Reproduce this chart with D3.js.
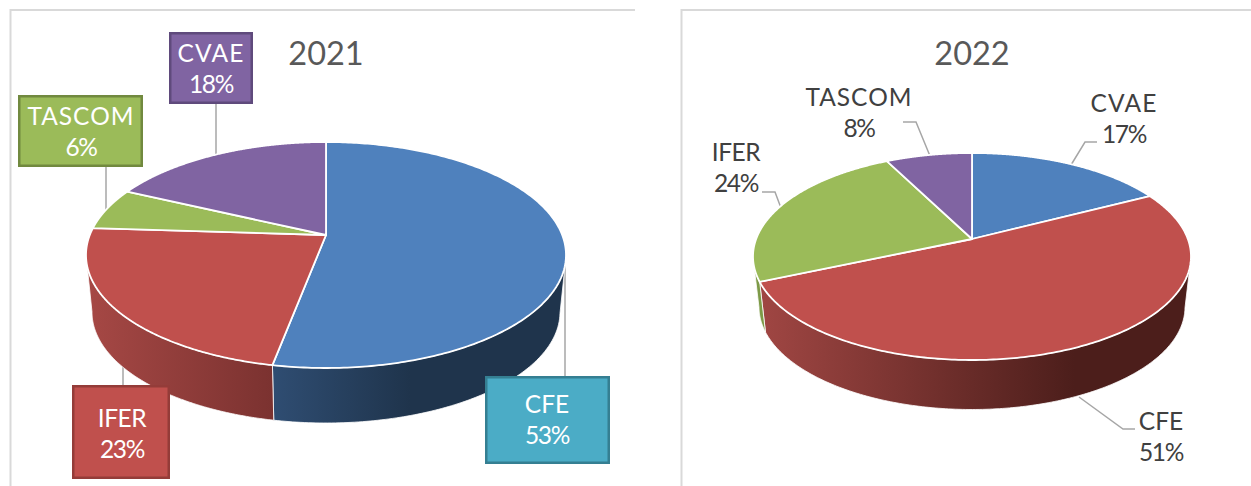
<!DOCTYPE html>
<html><head><meta charset="utf-8">
<style>html,body{margin:0;padding:0;background:#fff}svg{display:block}text{font-family:Lato,"Open Sans",sans-serif}</style>
<script src="https://cdn.jsdelivr.net/npm/d3@7/dist/d3.min.js"></script></head>
<body><svg id="c" width="1251" height="486"></svg>
<script>
const names2021 = ["CFE","IFER","TASCOM","CVAE"];
const values2021 = [53,23,6,18];
const names2022 = ["CVAE","CFE","IFER","TASCOM"];
const values2022 = [17.4,51.1,24,7.5];

const TOP={CFE:"#4f81bd",IFER:"#c0504d",TASCOM:"#9bbb59",CVAE:"#8064a2"};
const svg=d3.select("#c"), defs=svg.append("defs");

function drawPie(cfg){
  const {names,values,geo,fills,walls}=cfg;
  const arcs=d3.pie().sort(null)(values);
  const {cx,cy,rx,ry,apexY,depth,shrink}=geo;
  const up=cy-ry, dn=cy+ry;
  const B=2/(1/(apexY-up)+1/(dn-apexY));
  const A=rx*Math.sqrt(1-((cy-apexY)/ry)**2);
  function rim(t){
    const dx=A*Math.sin(t), dy=-B*Math.cos(t);
    const ey=apexY-cy;
    const a=dx*dx/(rx*rx)+dy*dy/(ry*ry), b=2*dy*ey/(ry*ry), c=ey*ey/(ry*ry)-1;
    const s=(-b+Math.sqrt(b*b-4*a*c))/(2*a);
    const x=dx*s, y=ey+dy*s;
    return {x:cx+x,y:cy+y,ux:x/rx,uy:y/ry};
  }
  const g=svg.append("g");
  const line=d3.line().x(d=>d[0]).y(d=>d[1]);
  arcs.forEach((d,i)=>{
    const steps=d3.range(0,241).map(k=>d.startAngle+(d.endAngle-d.startAngle)*k/240);
    const pts=steps.map(rim).filter(p=>p.uy>=0);
    if(!pts.length) return;
    const topP=pts.map(p=>[p.x,p.y]);
    const botP=pts.map(p=>[cx+p.ux*(rx-shrink),cy+depth+p.uy*(ry-geo.shrinkY)]).reverse();
    const id=cfg.id+"w"+i, w=walls[names[i]];
    const gr=defs.append("linearGradient").attr("id",id).attr("gradientUnits","userSpaceOnUse")
      .attr("x1",w.x[0]).attr("x2",w.x[1]).attr("y1",0).attr("y2",0);
    gr.append("stop").attr("offset",0).attr("stop-color",w.c[0]);
    gr.append("stop").attr("offset",1).attr("stop-color",w.c[1]);
    g.append("path").attr("d",line(topP.concat(botP))+"Z").attr("fill",`url(#${id})`)
      .attr("stroke","#fff").attr("stroke-width",0.8);
  });
  arcs.forEach((d,i)=>{
    const steps=d3.range(0,241).map(k=>d.startAngle+(d.endAngle-d.startAngle)*k/240);
    const pts=steps.map(rim).map(p=>[p.x,p.y]);
    const path=line([[cx,apexY],...pts])+"Z";
    g.append("path").attr("d",path).attr("fill",fills[names[i]]).attr("stroke","#fff").attr("stroke-width",1.8).attr("stroke-linejoin","round");
  });
}

const frame=[[[10.5,486],[10.5,10],[635,10]],[[681.5,486],[681.5,10],[1251,10]]];
frame.forEach(f=>svg.append("path").attr("d",d3.line()(f)).attr("fill","none").attr("stroke","#d9d9d9").attr("stroke-width",2));

const leaders=[
 [[216,104],[216,156]],[[106,167],[106,212]],[[123,362],[123,386]],[[565,247],[565,376]],
 [[903,122],[916,122],[930,156]],[[762,192],[775,192],[781,208]],
 [[1097,142],[1085,142],[1071,165]],[[1079,397],[1123,429],[1135,429]]
];
leaders.forEach(l=>svg.append("path").attr("d",d3.line()(l)).attr("fill","none").attr("stroke","#a6a6a6").attr("stroke-width",1.5));

drawPie({id:"a",names:names2021,values:values2021,fills:TOP,
  geo:{cx:326,cy:255,rx:240,ry:113,apexY:235,depth:57,shrink:6,shrinkY:2},
  walls:{CFE:{x:[273,410],c:["#2f4d72","#1f344c"]},IFER:{x:[87,273],c:["#a64845","#7b3230"]},
         TASCOM:{x:[86,130],c:["#7d9a47","#7d9a47"]},CVAE:{x:[0,1],c:["#6a5387","#6a5387"]}}});
drawPie({id:"b",names:names2022,values:values2022,fills:{CVAE:TOP.CFE,CFE:TOP.IFER,IFER:TOP.TASCOM,TASCOM:TOP.CVAE},
  geo:{cx:972,cy:256.5,rx:219,ry:103.5,apexY:239,depth:50.5,shrink:6,shrinkY:1},
  walls:{CVAE:{x:[0,1],c:["#2f4d72","#2f4d72"]},CFE:{x:[760,1075],c:["#a04643","#4c1e1b"]},
         IFER:{x:[750,765],c:["#7d9a47","#7d9a47"]},TASCOM:{x:[0,1],c:["#6a5387","#6a5387"]}}});

const boxes=[
 {x:169,y:32,w:84,h:72,f:"#8064a2",s:"#5f4a7c"},
 {x:18,y:95,w:125,h:72,f:"#9bbb59",s:"#71893f"},
 {x:72,y:385,w:98,h:94,f:"#c0504d",s:"#943c39"},
 {x:485,y:376,w:125,h:88,f:"#4bacc6",s:"#357f92"}];
boxes.forEach(b=>svg.append("rect").attr("x",b.x+1.25).attr("y",b.y+1.25).attr("width",b.w-2.5).attr("height",b.h-2.5)
  .attr("fill",b.f).attr("stroke",b.s).attr("stroke-width",2.5));

const W="#fff",D="#404040",sp={CVAE:1.2,TASCOM:1,IFER:-0.4,CFE:0};
const labels=[
 {t:"2021",x:326,y:65,s:32.5,c:"#595959"},{t:"2022",x:972,y:65,s:32.5,c:"#595959"},
 {t:"CVAE",x:211,y:62,c:W},{t:"18%",x:211,y:93,c:W},
 {t:"TASCOM",x:81,y:125,c:W},{t:"6%",x:81,y:156,c:W},
 {t:"IFER",x:122,y:427,c:W},{t:"23%",x:122,y:458,c:W},
 {t:"CFE",x:547,y:413,c:W},{t:"53%",x:547,y:444,c:W},
 {t:"TASCOM",x:859,y:106,c:D},{t:"8%",x:859,y:137,c:D},
 {t:"IFER",x:736,y:161,c:D},{t:"24%",x:736,y:192,c:D},
 {t:"CVAE",x:1124,y:112,c:D},{t:"17%",x:1124,y:143,c:D},
 {t:"CFE",x:1161,y:430,c:D},{t:"51%",x:1161,y:461,c:D}];
labels.forEach(l=>svg.append("text").attr("x",l.x).attr("y",l.y).attr("text-anchor","middle")
  .attr("font-size",l.s||24.5).attr("fill",l.c)
  .attr("letter-spacing",l.s?0:(l.t.endsWith("%")?-1.4:sp[l.t])).text(l.t));
</script></body></html>
